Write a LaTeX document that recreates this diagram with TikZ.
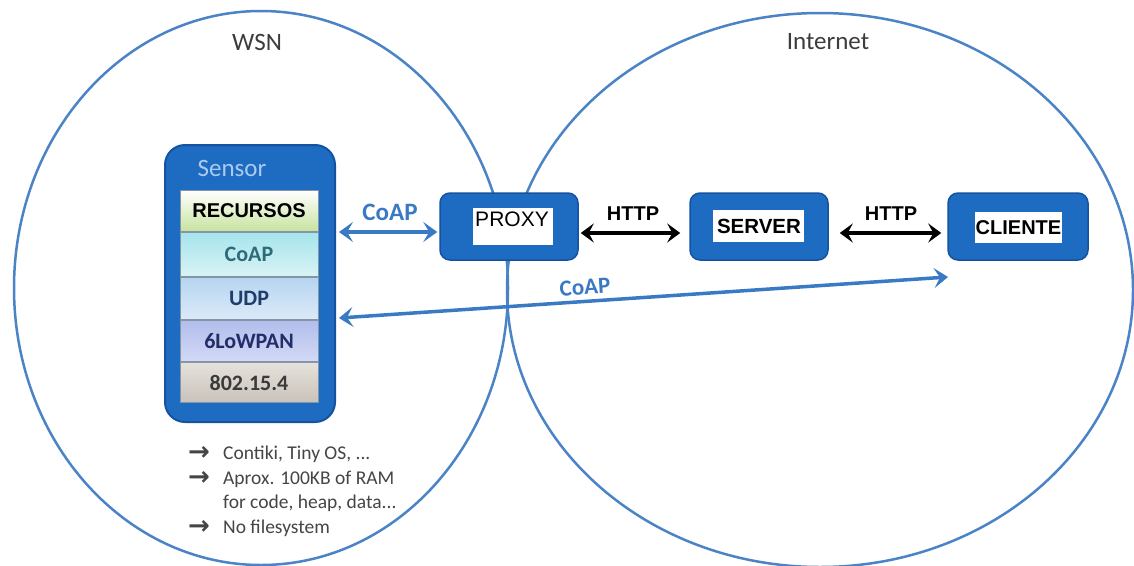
\documentclass[tikz,border=0pt]{standalone}
\usepackage{fontspec}
\setmainfont{Carlito}
\newfontfamily\arialf{Liberation Sans}
\newfontfamily\dejavu{DejaVu Sans}
\usetikzlibrary{arrows.meta,calc}
\definecolor{ellblue}{HTML}{4A84C6}
\definecolor{boxblue}{HTML}{1E6BC2}
\definecolor{boxedge}{HTML}{1553A0}
\definecolor{senslbl}{HTML}{A9CBF0}
\definecolor{coapblue}{HTML}{3A7AC4}
\definecolor{txtgrey}{HTML}{3C3C3C}
\definecolor{bulgrey}{HTML}{454545}
\definecolor{recgreen}{HTML}{C6E39E}
\definecolor{coaptop}{HTML}{A6E4EC}
\definecolor{coapbot}{HTML}{D9F3F5}
\definecolor{udptop}{HTML}{B6D5F0}
\definecolor{udpbot}{HTML}{DCEAF8}
\definecolor{lowtop}{HTML}{B2BDEC}
\definecolor{lowbot}{HTML}{D3D9F5}
\definecolor{mactop}{HTML}{E6E1DA}
\definecolor{macbot}{HTML}{C8C2BB}
\definecolor{layeredge}{HTML}{8595A8}
\definecolor{coaptxt}{HTML}{2D6B78}
\definecolor{udptxt}{HTML}{1E3C6C}
\definecolor{lowtxt}{HTML}{232E68}
\definecolor{mactxt}{HTML}{3A3A3A}
\tikzset{
  netell/.style={draw=ellblue, line width=2.5pt},
  bluebox/.style={draw=boxedge, line width=1.5pt, fill=boxblue, rounded corners=10pt, inner sep=0pt},
  sensorbox/.style={draw=boxedge, line width=2pt, fill=boxblue, rounded corners=20pt, inner sep=0pt, minimum width=170pt, minimum height=277pt},
  layer/.style={draw=layeredge, line width=0.8pt, inner sep=0pt, minimum width=138pt, font=\fontsize{22}{25}\selectfont\bfseries},
  whitelbl/.style={fill=white, inner sep=0pt},
  boxtxt/.style={font=\arialf\fontsize{20.5}{23}\selectfont\bfseries, inner sep=0pt, text=black},
  coaplbl/.style={font=\fontsize{25}{28}\selectfont\bfseries, text=coapblue, inner sep=0pt},
  httplbl/.style={font=\arialf\fontsize{20}{22}\selectfont\bfseries, text=black, inner sep=0pt},
  bluearrow/.style={draw=coapblue, line width=4pt, {Stealth[length=14pt,width=20pt,inset=6pt]}-{Stealth[length=14pt,width=20pt,inset=6pt]}},
  blackarrow/.style={draw=black, line width=4pt, {Stealth[length=13pt,width=19pt,inset=5pt]}-{Stealth[length=13pt,width=19pt,inset=5pt]}},
  bullet/.style={font=\fontsize{19.5}{22}\selectfont, text=bulgrey, inner sep=0pt, anchor=base west},
  bularrow/.style={font=\dejavu\fontsize{26}{28}\selectfont\bfseries, text=bulgrey, inner sep=0pt, anchor=base west}
}
\begin{document}
\begin{tikzpicture}[x=1pt,y=-1pt]
\useasboundingbox (0,0) rectangle (1134,565);
\fill[white] (0,0) rectangle (1134,565);
% network regions
\draw[netell] (261,288) ellipse [x radius=247, y radius=277];
\draw[netell] (820,290) ellipse [x radius=313, y radius=277];
\node[font=\fontsize{25}{28}\selectfont, text=txtgrey] (wsn) at (257,42) {WSN};
\node[font=\fontsize{25}{28}\selectfont, text=txtgrey] (inet) at (828,42) {Internet};
% sensor stack
\node[sensorbox] (sensor) at (250,283.5) {};
\node[font=\fontsize{25}{28}\selectfont, text=senslbl] (senstxt) at (232,168) {Sensor};
\node[layer, minimum height=41pt, top color=white, middle color=white, bottom color=recgreen, font=\arialf\fontsize{20}{23}\selectfont\bfseries, text=black] (rec) at (249,211) {RECURSOS};
\node[layer, minimum height=44pt, top color=coaptop, bottom color=coapbot, text=coaptxt] (lcoap) at (249,254.5) {CoAP};
\node[layer, minimum height=42pt, top color=udptop, bottom color=udpbot, text=udptxt] (ludp) at (249,298.5) {UDP};
\node[layer, minimum height=41pt, top color=lowtop, bottom color=lowbot, text=lowtxt] (llow) at (249,341) {6LoWPAN};
\node[layer, minimum height=40pt, top color=mactop, bottom color=macbot, text=mactxt] (lmac) at (249,382.5) {802.15.4};
% proxy, server, client
\node[bluebox, minimum width=138pt, minimum height=67pt] (proxy) at (509,226.5) {};
\node[whitelbl, minimum width=80pt, minimum height=37pt] (proxyw) at (513,226.5) {};
\node[font=\arialf\fontsize{21}{23}\selectfont, text=black, inner sep=0pt] (proxyt) at (512,219.5) {PROXY};
\node[bluebox, minimum width=138pt, minimum height=67pt] (server) at (759,226.5) {};
\node[whitelbl, minimum width=91pt, minimum height=32pt] (serverw) at (758.5,226) {};
\node[boxtxt] (servert) at (759,226.5) {SERVER};
\node[bluebox, minimum width=140pt, minimum height=67pt] (client) at (1018,226.5) {};
\node[whitelbl, minimum width=87pt, minimum height=31pt] (clientw) at (1018.5,227.5) {};
\node[boxtxt, font=\arialf\fontsize{20}{23}\selectfont\bfseries] (clientt) at (1018.5,228) {CLIENTE};
% connectors
\coordinate (sa) at ($(sensor.east |- 0,232)+(3,0)$);
\coordinate (pa) at ($(proxy.west |- 0,232)+(-2,0)$);
\draw[bluearrow] (sa) -- (pa);
\node[coaplbl] (coap1) at (390,212) {CoAP};
\draw[blackarrow, shorten <=2pt, shorten >=9pt] (proxy.east |- 0,233) -- (server.west |- 0,233);
\node[httplbl] (http1) at (633,214) {HTTP};
\draw[blackarrow, shorten <=11pt, shorten >=6pt] (server.east |- 0,233) -- (client.west |- 0,233);
\node[httplbl] (http2) at (891,214) {HTTP};
\coordinate (ls) at ($(sensor.east |- 0,318)+(3,0)$);
\coordinate (lc) at (948,277);
\draw[bluearrow, line width=3.5pt] (ls) -- (lc);
\node[coaplbl, font=\fontsize{23}{26}\selectfont\bfseries, rotate=3.8] (coap2) at (585,287) {CoAP};
% notes
\node[bularrow] (a1) at (188,460) {→};
\node[bullet] (b1) at (223,459) {Contiki, Tiny OS, ...};
\node[bularrow] (a2) at (188,485) {→};
\node[bullet] (b2) at (223,484) {Aprox. 100KB of RAM};
\node[bullet] (b3) at (223,508) {for code, heap, data...};
\node[bularrow] (a4) at (188,534) {→};
\node[bullet] (b4) at (223,533) {No filesystem};
\end{tikzpicture}
\end{document}
